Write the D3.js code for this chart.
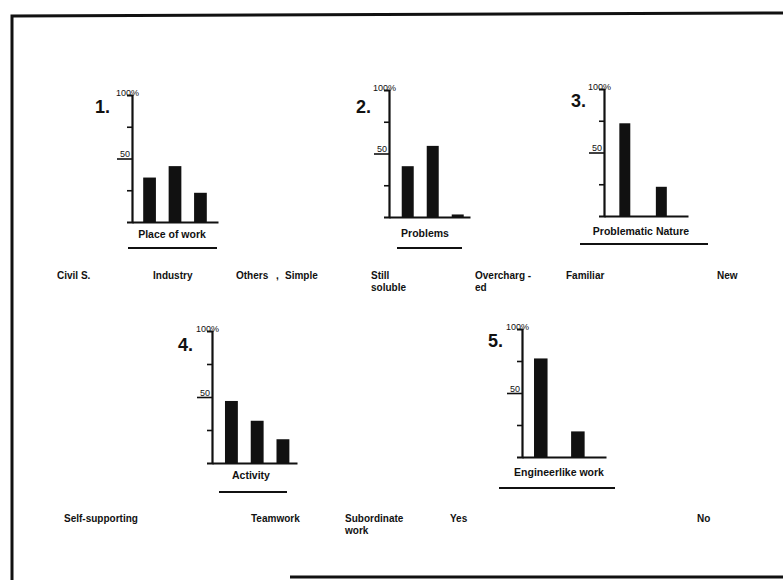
<!DOCTYPE html>
<html>
<head>
<meta charset="utf-8">
<script src="https://cdn.jsdelivr.net/npm/d3@7/dist/d3.min.js"></script>
<style>
  html, body { margin: 0; padding: 0; background: #fff; }
  svg { display: block; }
  text { font-family: "Liberation Sans", Arial, sans-serif; fill: #111; }
</style>
</head>
<body>
<svg id="chart" width="783" height="580"></svg>
<script>
// ---------------- DATA ----------------
const panelNumbers = ["1.", "2.", "3.", "4.", "5."];
const panelTitles = ["Place of work", "Problems", "Problematic Nature", "Activity", "Engineerlike work"];

const categories1 = ["Civil S.", "Industry", "Others"];
const values1 = [35, 44, 23];

const categories2 = ["Simple", "Still\nsoluble", "Overcharg -\ned"];
const values2 = [40, 56, 2];

const categories3 = ["Familiar", "New"];
const values3 = [73, 23];

const categories4 = ["Self-supporting", "Teamwork", "Subordinate\nwork"];
const values4 = [47, 32, 18];

const categories5 = ["Yes", "No"];
const values5 = [77, 20];

const yTickValues = [25, 50, 75];
const yMidLabel = "50";
const yTopLabel = "100%";
const yMax = 100;

// ---------------- LAYOUT ----------------
const layout = [
  { ax: 132, base: 222, h: 127, len: 86, pi: 0.5, po: 0.44, al: 0.5,
    num: [95, 113], title: [172, 238], ul: [128, 217, 248], labY: 279, labX: [57, 153, 236] },
  { ax: 389, base: 217, h: 127, len: 81, pi: 0.52, po: 0.38, al: 0.67,
    num: [356, 113], title: [425, 237], ul: [397, 462, 248], labY: 279, labX: [285, 371, 475] },
  { ax: 604, base: 216, h: 127, len: 84, pi: 0.7, po: 0.5, al: 0.42,
    num: [571, 107], title: [641, 235], ul: [580, 708, 244], labY: 279, labX: [566, 717] },
  { ax: 212, base: 463, h: 132, len: 85, pi: 0.5, po: 0.4, al: 0.63,
    num: [178, 351], title: [251, 479], ul: [219, 287, 492], labY: 522, labX: [64, 251, 345] },
  { ax: 522, base: 457, h: 128, len: 84, pi: 0.635, po: 0.45, al: 0.36,
    num: [488, 347], title: [559, 476], ul: [499, 615, 488], labY: 522, labX: [450, 697] }
];

const allCats = [categories1, categories2, categories3, categories4, categories5];
const allVals = [values1, values2, values3, values4, values5];

const svg = d3.select("#chart");

// frame
const frame = svg.append("g").attr("stroke", "#111").attr("stroke-width", 3).attr("fill", "none");
frame.append("path").attr("d", "M12,580 L12,16 L783,13");
frame.append("path").attr("d", "M290,577 L783,577");

// stray comma in the original
svg.append("text").attr("x", 276).attr("y", 279).attr("font-size", 10).attr("font-weight", "bold").text(",");

layout.forEach((L, i) => {
  const cats = allCats[i];
  const vals = allVals[i];
  const g = svg.append("g");

  const x = d3.scaleBand()
    .domain(cats)
    .range([L.ax, L.ax + L.len])
    .paddingInner(L.pi)
    .paddingOuter(L.po)
    .align(L.al);

  const y = d3.scaleLinear()
    .domain([0, yMax])
    .range([L.base, L.base - L.h]);

  // bars
  g.selectAll("rect.bar")
    .data(cats.map((c, k) => ({ c, v: vals[k] })))
    .join("rect")
    .attr("class", "bar")
    .attr("x", d => x(d.c))
    .attr("width", x.bandwidth())
    .attr("y", d => y(d.v))
    .attr("height", d => L.base - y(d.v))
    .attr("fill", "#111");

  // baseline (x axis)
  const xAxis = g.append("g")
    .attr("transform", `translate(0,${L.base})`)
    .call(d3.axisBottom(x).tickSize(0).tickSizeOuter(0).tickFormat(""));
  xAxis.select(".domain").attr("stroke", "#111").attr("stroke-width", 2.2);
  xAxis.selectAll(".tick").remove();

  // y axis
  const yAxis = g.append("g")
    .attr("transform", `translate(${L.ax},0)`)
    .call(d3.axisLeft(y).tickValues(yTickValues).tickSizeOuter(0).tickSize(5)
      .tickFormat(d => d === 50 ? yMidLabel : ""));
  yAxis.select(".domain").attr("stroke", "#111").attr("stroke-width", 2.2);
  yAxis.selectAll(".tick line").attr("stroke", "#111").attr("stroke-width", 1.6)
    .attr("x2", d => d === 50 ? -15 : -5);
  yAxis.selectAll(".tick text")
    .attr("x", -2).attr("dy", "-0.2em")
    .attr("font-size", 9)
    .attr("font-family", "'Liberation Sans', Arial, sans-serif")
    .attr("fill", "#111");

  // 100% label
  g.append("text")
    .attr("x", L.ax + 7).attr("y", y(yMax) + 1)
    .attr("text-anchor", "end")
    .attr("font-size", 9)
    .text(yTopLabel);

  // panel number
  g.append("text")
    .attr("x", L.num[0]).attr("y", L.num[1])
    .attr("font-size", 18).attr("font-weight", "bold")
    .text(panelNumbers[i]);

  // title and underline
  g.append("text")
    .attr("x", L.title[0]).attr("y", L.title[1])
    .attr("text-anchor", "middle")
    .attr("font-size", 10.5).attr("font-weight", "bold")
    .text(panelTitles[i]);
  g.append("line")
    .attr("x1", L.ul[0]).attr("x2", L.ul[1])
    .attr("y1", L.ul[2]).attr("y2", L.ul[2])
    .attr("stroke", "#111").attr("stroke-width", 2.2);

  // category labels
  cats.forEach((c, k) => {
    const t = g.append("text")
      .attr("x", L.labX[k]).attr("y", L.labY)
      .attr("font-size", 10).attr("font-weight", "bold");
    c.split("\n").forEach((line, j) => {
      t.append("tspan").attr("x", L.labX[k]).attr("dy", j === 0 ? 0 : 12).text(line);
    });
  });
});
</script>
</body>
</html>
